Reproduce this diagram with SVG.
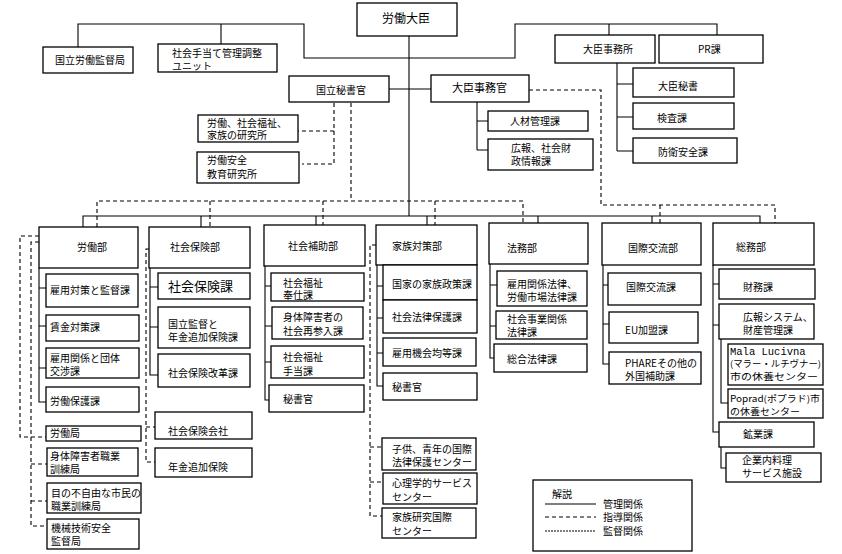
<svg xmlns="http://www.w3.org/2000/svg" width="842" height="554" viewBox="0 0 842 554">
<style>
.b{fill:#fff;stroke:#000;stroke-width:1.3}
text{font-family:"Noto Sans CJK JP","Noto Sans",sans-serif;font-size:10px;fill:#000}
.sm{font-size:9px}
.mono{font-family:"Liberation Mono",monospace;font-size:10.5px}
.s{fill:none;stroke:#000;stroke-width:1.1}
.d{fill:none;stroke:#000;stroke-width:1.1;stroke-dasharray:4 3}
.f{fill:none;stroke:#000;stroke-width:1.1;stroke-dasharray:2 1}
</style>
<rect width="842" height="554" fill="#fff"/>
<g id="connectors">
<path class="s" d="M409,36V216M78,47V24H304V58H515V24H717V35M221,24V44M609,24V35M389,89H431"/>
<path class="s" d="M617,63V151M617,84H633M617,117H633M617,151H633M477,102V150M477,121H488M477,150H488"/>
<path class="s" d="M83,227V216H760V223M201,216V227M316,216V225M427,216V225M538,216V223M652,216V223"/>
<path class="s" d="M39,268V402H46M39,288H46M39,326H46M39,368H46"/>
<path class="s" d="M150,268V375H158M150,287H158M150,327H158"/>
<path class="s" d="M265,266V400H269M265,286H271M265,326H272M265,362H271"/>
<path class="s" d="M377,265V386H383M377,286H383M377,318H383M377,353H383"/>
<path class="s" d="M490,264V358H494M490,285H497M490,326H496"/>
<path class="s" d="M603,265V364H609M603,285H608M603,324H609"/>
<path class="s" d="M713,265V432H719M713,284H719M713,325H719M721,339V403H728M721,447V468H726"/>
<path class="d" d="M529,90H601V205H775V223M660,205V223M351,103V201M97,227V201H523V223M210,201V227M323,201V225M435,201V225"/>
<path class="d" d="M334,103V164H302M334,131H298"/>
<path class="d" d="M39,236H20V437H46M39,242H31V526H47M31,464H47M31,501H47"/>
<path class="d" d="M149,249H146V462H155M146,427H155"/>
<path class="d" d="M376,245H370V516H382M370,447H382M370,482H383"/>
</g>
<g id="minister"><rect class="b" x="357" y="3" width="100" height="33"/><text x="382" y="23" style="font-size:12px">労働大臣</text></g>
<g id="n1"><rect class="b" x="43" y="47" width="90" height="26"/><text x="55" y="64">国立労働監督局</text></g>
<g id="n2"><rect class="b" x="158" y="44" width="119" height="28"/><text x="172" y="57">社会手当て管理調整</text><text x="172" y="70">ユニット</text></g>
<g id="n3"><rect class="b" x="555" y="35" width="100" height="28"/><text x="583" y="53">大臣事務所</text></g>
<g id="n4"><rect class="b" x="659" y="35" width="104" height="28"/><text x="698" y="53">PR課</text></g>
<g id="n5"><rect class="b" x="633" y="68" width="101" height="29"/><text x="658" y="90">大臣秘書</text></g>
<g id="n6"><rect class="b" x="633" y="103" width="101" height="26"/><text x="657" y="122">検査課</text></g>
<g id="n7"><rect class="b" x="633" y="138" width="104" height="25"/><text x="658" y="156">防衛安全課</text></g>
<g id="n8"><rect class="b" x="289" y="76" width="100" height="26"/><text x="316" y="94">国立秘書官</text></g>
<g id="n9"><rect class="b" x="431" y="75" width="98" height="27"/><text x="452" y="92" style="font-size:11px">大臣事務官</text></g>
<g id="n10"><rect class="b" x="488" y="111" width="100" height="20"/><text x="510" y="125">人材管理課</text></g>
<g id="n11"><rect class="b" x="488" y="139" width="105" height="31"/><text x="511" y="152">広報、社会財</text><text x="511" y="165">政情報課</text></g>
<g id="n12"><rect class="b" x="198" y="115" width="100" height="27"/><text x="207" y="127">労働、社会福祉、</text><text x="207" y="139">家族の研究所</text></g>
<g id="n13"><rect class="b" x="197" y="152" width="102" height="31"/><text x="207" y="164">労働安全</text><text x="207" y="178">教育研究所</text></g>
<g id="d1"><rect class="b" x="39" y="227" width="99" height="41"/><text x="77" y="251">労働部</text></g>
<g id="d2"><rect class="b" x="149" y="227" width="101" height="41"/><text x="170" y="251">社会保険部</text></g>
<g id="d3"><rect class="b" x="264" y="225" width="101" height="41"/><text x="288" y="250">社会補助部</text></g>
<g id="d4"><rect class="b" x="376" y="225" width="101" height="40"/><text x="392" y="250">家族対策部</text></g>
<g id="d5"><rect class="b" x="489" y="223" width="99" height="41"/><text x="507" y="252">法務部</text></g>
<g id="d6"><rect class="b" x="602" y="223" width="99" height="42"/><text x="628" y="252">国際交流部</text></g>
<g id="d7"><rect class="b" x="713" y="223" width="101" height="42"/><text x="736" y="251">総務部</text></g>
<g id="c11"><rect class="b" x="46" y="274" width="92" height="33"/><text x="50" y="294">雇用対策と監督課</text></g>
<g id="c12"><rect class="b" x="46" y="315" width="93" height="26"/><text x="50" y="331">賃金対策課</text></g>
<g id="c13"><rect class="b" x="46" y="348" width="93" height="30"/><text x="50" y="362">雇用関係と団体</text><text x="50" y="375">交渉課</text></g>
<g id="c14"><rect class="b" x="46" y="387" width="93" height="25"/><text x="50" y="405">労働保護課</text></g>
<g id="c15"><rect class="b" x="46" y="426" width="95" height="15"/><text x="50" y="437">労働局</text></g>
<g id="c16"><rect class="b" x="47" y="448" width="91" height="28"/><text x="50" y="460">身体障害者職業</text><text x="50" y="473">訓練局</text></g>
<g id="c17"><rect class="b" x="47" y="483" width="94" height="30"/><text x="51" y="497">目の不自由な市民の</text><text x="51" y="510">職業訓練局</text></g>
<g id="c18"><rect class="b" x="47" y="519" width="92" height="30"/><text x="51" y="532">機械技術安全</text><text x="51" y="545">監督局</text></g>
<g id="c21"><rect class="b" x="158" y="273" width="92" height="26"/><text x="168" y="291" style="font-size:13px">社会保険課</text></g>
<g id="c22"><rect class="b" x="158" y="307" width="92" height="41"/><text x="168" y="328">国立監督と</text><text x="168" y="341">年金追加保険課</text></g>
<g id="c23"><rect class="b" x="158" y="354" width="92" height="33"/><text x="168" y="377">社会保険改革課</text></g>
<g id="c24"><rect class="b" x="155" y="412" width="97" height="27"/><text x="168" y="435">社会保険会社</text></g>
<g id="c25"><rect class="b" x="155" y="448" width="97" height="29"/><text x="168" y="471">年金追加保険</text></g>
<g id="c31"><rect class="b" x="271" y="273" width="93" height="28"/><text x="283" y="287">社会福祉</text><text x="283" y="299">奉仕課</text></g>
<g id="c32"><rect class="b" x="272" y="307" width="91" height="32"/><text x="283" y="321">身体障害者の</text><text x="283" y="335">社会再参入課</text></g>
<g id="c33"><rect class="b" x="271" y="346" width="93" height="32"/><text x="283" y="361">社会福祉</text><text x="283" y="375">手当課</text></g>
<g id="c34"><rect class="b" x="269" y="385" width="95" height="27"/><text x="283" y="403">秘書官</text></g>
<g id="c41"><rect class="b" x="383" y="265" width="94" height="35"/><text x="392" y="288">国家の家族政策課</text></g>
<g id="c42"><rect class="b" x="383" y="300" width="94" height="33"/><text x="392" y="321">社会法律保護課</text></g>
<g id="c43"><rect class="b" x="383" y="338" width="93" height="28"/><text x="392" y="357">雇用機会均等課</text></g>
<g id="c44"><rect class="b" x="383" y="373" width="94" height="27"/><text x="392" y="391">秘書官</text></g>
<g id="c45"><rect class="b" x="382" y="438" width="94" height="32"/><text x="392" y="453">子供、青年の国際</text><text x="392" y="466">法律保護センター</text></g>
<g id="c46"><rect class="b" x="383" y="473" width="94" height="31"/><text x="392" y="487">心理学的サービス</text><text x="392" y="501">センター</text></g>
<g id="c47"><rect class="b" x="382" y="508" width="94" height="30"/><text x="392" y="521">家族研究国際</text><text x="392" y="535">センター</text></g>
<g id="c51"><rect class="b" x="497" y="271" width="90" height="35"/><text x="507" y="288">雇用関係法律、</text><text x="507" y="301">労働市場法律課</text></g>
<g id="c52"><rect class="b" x="496" y="311" width="91" height="28"/><text x="507" y="323">社会事業関係</text><text x="507" y="336">法律課</text></g>
<g id="c53"><rect class="b" x="494" y="344" width="93" height="28"/><text x="507" y="363">総合法律課</text></g>
<g id="c61"><rect class="b" x="608" y="273" width="93" height="32"/><text x="626" y="291">国際交流課</text></g>
<g id="c62"><rect class="b" x="609" y="312" width="89" height="31"/><text x="625" y="334">EU加盟課</text></g>
<g id="c63"><rect class="b" x="609" y="352" width="92" height="32"/><text x="625" y="367">PHAREその他の</text><text x="625" y="380">外国補助課</text></g>
<g id="c71"><rect class="b" x="719" y="269" width="96" height="30"/><text x="743" y="291">財務課</text></g>
<g id="c72"><rect class="b" x="719" y="304" width="95" height="35"/><text x="743" y="321">広報システム、</text><text x="743" y="334">財産管理課</text></g>
<g id="c73"><rect class="b" x="728" y="344" width="95" height="41"/><text class="mono" x="730" y="355">Mala Lucivna</text><text class="sm" x="730" y="367" textLength="91" lengthAdjust="spacingAndGlyphs">(マラー・ルチヴナー)</text><text class="sm" x="730" y="380" textLength="88" lengthAdjust="spacingAndGlyphs">市の休養センター</text></g>
<g id="c74"><rect class="b" x="728" y="389" width="95" height="29"/><text class="sm" x="730" y="402" textLength="90" lengthAdjust="spacingAndGlyphs">Poprad(ポプラド)市</text><text class="sm" x="730" y="415" textLength="70" lengthAdjust="spacingAndGlyphs">の休養センター</text></g>
<g id="c75"><rect class="b" x="719" y="422" width="95" height="25"/><text x="743" y="438">鉱業課</text></g>
<g id="c76"><rect class="b" x="726" y="453" width="95" height="29"/><text x="742" y="464">企業内料理</text><text x="742" y="477">サービス施設</text></g>
<g id="legend"><rect class="b" x="533" y="480" width="159" height="71"/><text x="552" y="498">解説</text>
<path class="s" d="M545,504H596"/><path class="d" d="M545,517H596"/><path class="f" d="M545,531H596"/>
<text x="603" y="508">管理関係</text><text x="603" y="521">指導関係</text><text x="603" y="535">監督関係</text></g>
</svg>
